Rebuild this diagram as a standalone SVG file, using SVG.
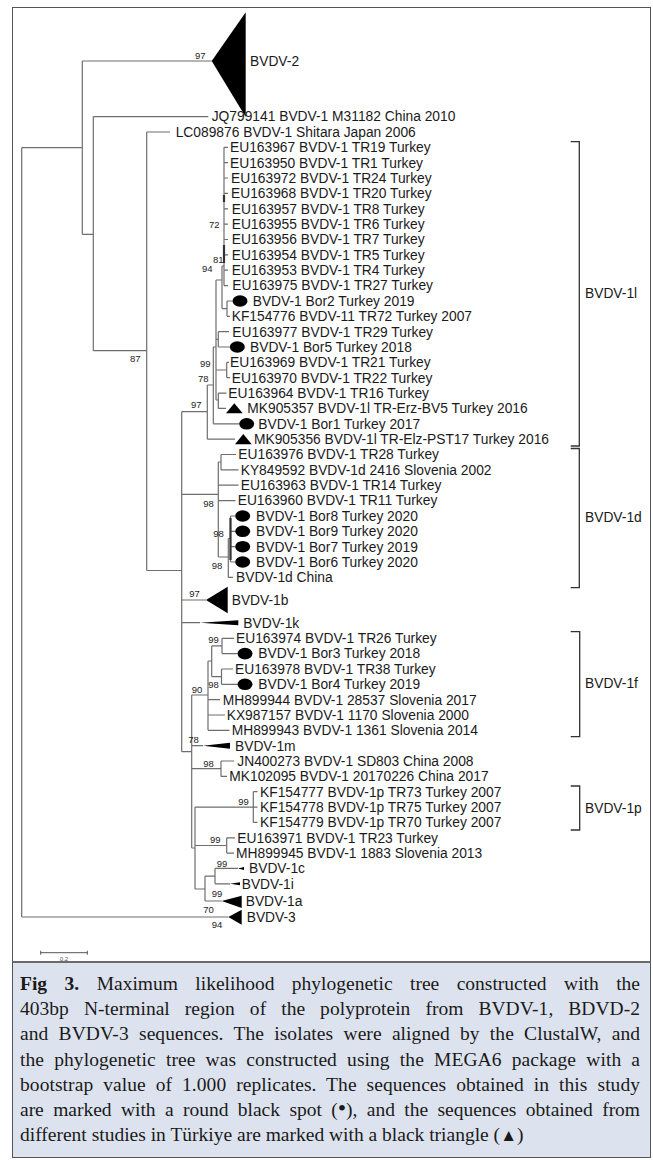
<svg xmlns="http://www.w3.org/2000/svg" width="653" height="1160" viewBox="0 0 653 1160">
<style>
.br{fill:none;stroke:#6e6e6e;stroke-width:1.2}
.thk{fill:none;stroke:#333;stroke-width:2.2}
.lb{font-family:"Liberation Sans",Arial,sans-serif;font-size:13.8px;fill:#1a1a1a}
.bs{font-family:"Liberation Sans",Arial,sans-serif;font-size:9.5px;fill:#222}
.brk{fill:none;stroke:#333;stroke-width:1.3}
.dot{fill:#000}
.tri{fill:#000}
.cap{font-family:"Liberation Serif","Times New Roman",serif;font-size:19.5px;fill:#1a1a1a}
</style>
<rect x="0" y="0" width="653" height="1160" fill="#fff"/>
<rect x="12.5" y="962" width="638" height="195.5" fill="#dde3ee"/>
<rect x="12.5" y="7.5" width="638" height="1150" fill="none" stroke="#555" stroke-width="1"/>
<line x1="12.5" y1="962" x2="650.5" y2="962" stroke="#6a6a6a" stroke-width="2"/>

<g id="connectors">
<path class="br" d="M21.7 147.7V917M21.7 147.7H82.3M21.7 917H228.3
M82.3 61V234.3M82.3 61H211.7M82.3 234.3H93.3
M93.3 116.6V350.7M93.3 116.6H208.3M93.3 350.7H146.7
M146.7 132V570.5M146.7 132H170M146.7 570.5H181.7
M181.7 411.7V751.7M181.7 411.7H207.3M181.7 494.3H218.3M181.7 600H206M181.7 622.7H200M181.7 751.7H191.7
M207.3 385V439.2M207.3 439.2H235
M207.3 385H213.3M213.3 347V423.8M213.3 423.8H239.2
M213.3 347H216M216 280V400
M216 280H222M222 266V308.6
M222 266H224M224 147.3V285.6
M224 147.3H228M224 162.7H228M224 178H228M224 193.4H228M224 208.8H228M224 224.2H228M224 239.5H228M224 254.9H228M224 270.2H228M224 285.6H228
M222 308.6H227M227 301V316.3M227 301H232.5M227 316.3H230
M216 339.3H218.3M218.3 331.7V347M218.3 331.7H229M218.3 347H229.8
M216 370H226.7M226.7 362.4V377.7M226.7 362.4H229M226.7 377.7H230
M216 400H218.3M218.3 393.1V408.4M218.3 393.1H226.5M218.3 408.4H226
M218.3 462V557
M218.3 462H221M221 454.5V469.9M221 454.5H236M221 469.9H238.5
M218.3 485.2H238.5M218.3 500.6H235.5
M218.3 557H228.3M228.3 538.5V577.4M228.3 577.4H233
M228.3 538.5H230.5M230.5 516V562M230.5 516H235.2M230.5 531.3H235.2M230.5 546.7H235.2M230.5 562H235.2
M191.7 695V848
M191.7 695H208M208 661V730.3
M208 661H211.7M211.7 645.9V676.6
M211.7 645.9H222M222 638.3V653.6M222 638.3H234M222 653.6H237.5
M211.7 676.6H221.5M221.5 669V684.3M221.5 669H233M221.5 684.3H237.5
M208 699.7H220M208 715H225M208 730.3H229.5
M191.7 745.7H203
M191.7 768.7H221M221 761V776.4M221 761H234M221 776.4H227
M191.7 848H195M195 807.1V889
M195 807.1H253.3M253.3 791.7V822.4M253.3 791.7H257.5M253.3 807.1H257.5M253.3 822.4H257.5
M195 845.5H226.7M226.7 837.8V853.1M226.7 837.8H235M226.7 853.1H234
M195 889H205M205 876.1V901
M205 876.1H215M215 868.4V883.8M215 868.4H238M215 883.8H230
M205 901H221.7"/>
<path class="thk" d="M224 195V202M224 245V263M230.5 518V560"/>
</g>

<g id="bootstrap" class="bs">
<text x="195" y="58.8">97</text>
<text x="130" y="361.7">87</text>
<text x="209" y="227.7">72</text>
<text x="213" y="263.4">81</text>
<text x="202" y="271.6">94</text>
<text x="200" y="367.4">99</text>
<text x="198" y="381.7">78</text>
<text x="191" y="408.4">97</text>
<text x="203.3" y="506.7">98</text>
<text x="213.3" y="536.7">98</text>
<text x="211.7" y="569.4">98</text>
<text x="189.3" y="596.7">97</text>
<text x="208.3" y="642.7">99</text>
<text x="191.7" y="692.7">90</text>
<text x="208.3" y="688.4">98</text>
<text x="188.3" y="743.4">78</text>
<text x="203.3" y="766.7">98</text>
<text x="238.3" y="805">99</text>
<text x="210" y="843.4">99</text>
<text x="216.7" y="866.7">99</text>
<text x="211.7" y="896.7">99</text>
<text x="203.3" y="913.4">70</text>
<text x="211.7" y="928.4">94</text>
</g>

<g id="n-bvdv2"><polygon class="tri" points="211.7,61 245.7,12.3 245.7,117"/><text class="lb" x="250" y="65.8">BVDV-2</text></g>
<g id="n-jq799141"><text class="lb" x="211.7" y="121.4">JQ799141 BVDV-1 M31182 China 2010</text></g>
<g id="n-lc089876"><text class="lb" x="175.7" y="136.8">LC089876 BVDV-1 Shitara Japan 2006</text></g>
<g id="n-eu163967"><text class="lb" x="230" y="152.1">EU163967 BVDV-1 TR19 Turkey</text></g>
<g id="n-eu163950"><text class="lb" x="230" y="167.5">EU163950 BVDV-1 TR1 Turkey</text></g>
<g id="n-eu163972"><text class="lb" x="231" y="182.8">EU163972 BVDV-1 TR24 Turkey</text></g>
<g id="n-eu163968"><text class="lb" x="231" y="198.2">EU163968 BVDV-1 TR20 Turkey</text></g>
<g id="n-eu163957"><text class="lb" x="231.7" y="213.6">EU163957 BVDV-1 TR8 Turkey</text></g>
<g id="n-eu163955"><text class="lb" x="231.7" y="229">EU163955 BVDV-1 TR6 Turkey</text></g>
<g id="n-eu163956"><text class="lb" x="231.7" y="244.3">EU163956 BVDV-1 TR7 Turkey</text></g>
<g id="n-eu163954"><text class="lb" x="231.7" y="259.7">EU163954 BVDV-1 TR5 Turkey</text></g>
<g id="n-eu163953"><text class="lb" x="231.7" y="275">EU163953 BVDV-1 TR4 Turkey</text></g>
<g id="n-eu163975"><text class="lb" x="232.3" y="290.4">EU163975 BVDV-1 TR27 Turkey</text></g>
<g id="n-bor2"><ellipse class="dot" cx="240" cy="301" rx="7.5" ry="5.8"/><text class="lb" x="252.7" y="305.8">BVDV-1 Bor2 Turkey 2019</text></g>
<g id="n-kf154776"><text class="lb" x="231.7" y="321.1">KF154776 BVDV-11 TR72 Turkey 2007</text></g>
<g id="n-eu163977"><text class="lb" x="232.3" y="336.5">EU163977 BVDV-1 TR29 Turkey</text></g>
<g id="n-bor5"><ellipse class="dot" cx="237.3" cy="347" rx="7.5" ry="5.8"/><text class="lb" x="250" y="351.8">BVDV-1 Bor5 Turkey 2018</text></g>
<g id="n-eu163969"><text class="lb" x="230" y="367.2">EU163969 BVDV-1 TR21 Turkey</text></g>
<g id="n-eu163970"><text class="lb" x="231.7" y="382.5">EU163970 BVDV-1 TR22 Turkey</text></g>
<g id="n-eu163964"><text class="lb" x="228.3" y="397.9">EU163964 BVDV-1 TR16 Turkey</text></g>
<g id="n-mk905357"><polygon class="tri" points="226,413.3 242.7,413.3 234.3,403.2"/><text class="lb" x="247.3" y="413.2">MK905357 BVDV-1l TR-Erz-BV5 Turkey 2016</text></g>
<g id="n-bor1"><ellipse class="dot" cx="246.7" cy="423.8" rx="7.5" ry="5.8"/><text class="lb" x="258.3" y="428.6">BVDV-1 Bor1 Turkey 2017</text></g>
<g id="n-mk905356"><polygon class="tri" points="235,444.2 251.7,444.2 243.3,434"/><text class="lb" x="254" y="444">MK905356 BVDV-1l TR-Elz-PST17 Turkey 2016</text></g>
<g id="n-eu163976"><text class="lb" x="238.3" y="459.3">EU163976 BVDV-1 TR28 Turkey</text></g>
<g id="n-ky849592"><text class="lb" x="240.7" y="474.7">KY849592 BVDV-1d 2416 Slovenia 2002</text></g>
<g id="n-eu163963"><text class="lb" x="240.7" y="490">EU163963 BVDV-1 TR14 Turkey</text></g>
<g id="n-eu163960"><text class="lb" x="237.7" y="505.4">EU163960 BVDV-1 TR11 Turkey</text></g>
<g id="n-bor8"><ellipse class="dot" cx="242.7" cy="516" rx="7.5" ry="5.8"/><text class="lb" x="256" y="520.8">BVDV-1 Bor8 Turkey 2020</text></g>
<g id="n-bor9"><ellipse class="dot" cx="242.7" cy="531.3" rx="7.5" ry="5.8"/><text class="lb" x="256" y="536.1">BVDV-1 Bor9 Turkey 2020</text></g>
<g id="n-bor7"><ellipse class="dot" cx="242.7" cy="546.7" rx="7.5" ry="5.8"/><text class="lb" x="256" y="551.5">BVDV-1 Bor7 Turkey 2019</text></g>
<g id="n-bor6"><ellipse class="dot" cx="242.7" cy="562" rx="7.5" ry="5.8"/><text class="lb" x="256" y="566.8">BVDV-1 Bor6 Turkey 2020</text></g>
<g id="n-1dchina"><text class="lb" x="236" y="582.2">BVDV-1d China</text></g>
<g id="n-1b"><polygon class="tri" points="206,600 227.7,586.7 227.7,613.3"/><text class="lb" x="231.7" y="604.8">BVDV-1b</text></g>
<g id="n-1k"><polygon class="tri" points="200,622.7 238.3,620.2 238.3,625.2"/><text class="lb" x="243.3" y="627.5">BVDV-1k</text></g>
<g id="n-eu163974"><text class="lb" x="236" y="643.1">EU163974 BVDV-1 TR26 Turkey</text></g>
<g id="n-bor3"><ellipse class="dot" cx="245" cy="653.6" rx="7.5" ry="5.8"/><text class="lb" x="258.3" y="658.4">BVDV-1 Bor3 Turkey 2018</text></g>
<g id="n-eu163978"><text class="lb" x="235" y="673.8">EU163978 BVDV-1 TR38 Turkey</text></g>
<g id="n-bor4"><ellipse class="dot" cx="245" cy="684.3" rx="7.5" ry="5.8"/><text class="lb" x="258.3" y="689.1">BVDV-1 Bor4 Turkey 2019</text></g>
<g id="n-mh899944"><text class="lb" x="222.7" y="704.5">MH899944 BVDV-1 28537 Slovenia 2017</text></g>
<g id="n-kx987157"><text class="lb" x="226.7" y="719.8">KX987157 BVDV-1 1170 Slovenia 2000</text></g>
<g id="n-mh899943"><text class="lb" x="231.7" y="735.1">MH899943 BVDV-1 1361 Slovenia 2014</text></g>
<g id="n-1m"><polygon class="tri" points="203,745.7 230,742.7 230,748.7"/><text class="lb" x="235" y="750.5">BVDV-1m</text></g>
<g id="n-jn400273"><text class="lb" x="237.3" y="765.8">JN400273 BVDV-1 SD803 China 2008</text></g>
<g id="n-mk102095"><text class="lb" x="229.3" y="781.2">MK102095 BVDV-1 20170226 China 2017</text></g>
<g id="n-kf154777"><text class="lb" x="260" y="796.5">KF154777 BVDV-1p TR73 Turkey 2007</text></g>
<g id="n-kf154778"><text class="lb" x="260" y="811.9">KF154778 BVDV-1p TR75 Turkey 2007</text></g>
<g id="n-kf154779"><text class="lb" x="260" y="827.2">KF154779 BVDV-1p TR70 Turkey 2007</text></g>
<g id="n-eu163971"><text class="lb" x="237.3" y="842.6">EU163971 BVDV-1 TR23 Turkey</text></g>
<g id="n-mh899945"><text class="lb" x="236" y="857.9">MH899945 BVDV-1 1883 Slovenia 2013</text></g>
<g id="n-1c"><polygon class="tri" points="238,868.4 244,866.9 244,869.9"/><text class="lb" x="249" y="873.2">BVDV-1c</text></g>
<g id="n-1i"><polygon class="tri" points="230,883.8 240,882.3 240,885.3"/><text class="lb" x="241.7" y="888.6">BVDV-1i</text></g>
<g id="n-1a"><polygon class="tri" points="221.7,901 241.7,895.7 241.7,908"/><text class="lb" x="245.7" y="905.8">BVDV-1a</text></g>
<g id="n-bvdv3"><polygon class="tri" points="228.3,917 241.7,909.7 241.7,924.7"/><text class="lb" x="246.7" y="921.8">BVDV-3</text></g>

<g id="brackets">
<path class="brk" d="M570.7 141.7H579.3V446H570.7"/>
<text class="lb" x="585" y="297.5">BVDV-1l</text>
<path class="brk" d="M570.7 448.5H579.3V587.7H570.7"/>
<text class="lb" x="585" y="521.5">BVDV-1d</text>
<path class="brk" d="M570.7 631.7H579.7V736.7H570.7"/>
<text class="lb" x="585" y="688.1">BVDV-1f</text>
<path class="brk" d="M570.7 786H579.7V830H570.7"/>
<text class="lb" x="585" y="812.5">BVDV-1p</text>
</g>

<g id="scalebar">
<path d="M40.7 952.7H87.3M40.7 950.7V954.7M87.3 950.7V954.7" fill="none" stroke="#555" stroke-width="1"/>
<text x="64" y="960.5" text-anchor="middle" font-family="Liberation Sans, Arial, sans-serif" font-size="6" fill="#555">0.2</text>
</g>

<g id="caption" class="cap">
<text x="20" y="990" word-spacing="12.6" textLength="620" lengthAdjust="spacing"><tspan font-weight="bold">Fig 3.</tspan> Maximum likelihood phylogenetic tree constructed with the</text>
<text x="20" y="1015.2" word-spacing="10.1" textLength="620" lengthAdjust="spacing">403bp N-terminal region of the polyprotein from BVDV-1, BDVD-2</text>
<text x="20" y="1040.4" word-spacing="5.3" textLength="620" lengthAdjust="spacing">and BVDV-3 sequences. The isolates were aligned by the ClustalW, and</text>
<text x="20" y="1065.6" word-spacing="5.2" textLength="620" lengthAdjust="spacing">the phylogenetic tree was constructed using the MEGA6 package with a</text>
<text x="20" y="1090.8" word-spacing="5" textLength="620" lengthAdjust="spacing">bootstrap value of 1.000 replicates. The sequences obtained in this study</text>
<text x="20" y="1116" word-spacing="4.6" textLength="620" lengthAdjust="spacing">are marked with a round black spot (<tspan font-size="24">•</tspan>), and the sequences obtained from</text>
<text x="20" y="1141.2">different studies in Türkiye are marked with a black triangle (<tspan font-size="17">▲</tspan>)</text>
</g>
</svg>
